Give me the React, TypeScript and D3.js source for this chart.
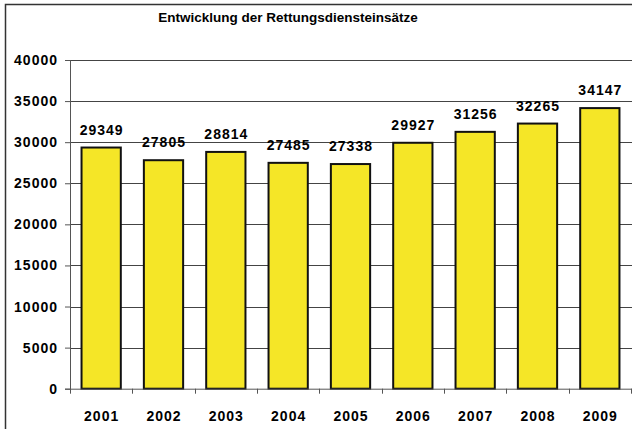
import React, { useEffect, useRef } from 'react';
import * as d3 from 'd3';

const years = ['2001', '2002', '2003', '2004', '2005', '2006', '2007', '2008', '2009'];
const einsaetze = [29349, 27805, 28814, 27485, 27338, 29927, 31256, 32265, 34147];
const yTicks = [0, 5000, 10000, 15000, 20000, 25000, 30000, 35000, 40000];
const title = 'Entwicklung der Rettungsdiensteinsätze';

const App = () => {
    const ref = useRef<SVGSVGElement>(null);
    const width = 632; // page width
    const height = 429; // page height
    const margin = { top: 60, right: 1, bottom: 40.3, left: 70 };
    const barColor = '#f5e627';
    const font = '"Liberation Sans", Arial, Helvetica, sans-serif';

    useEffect(() => {
        const svg = d3.select(ref.current);
        svg.selectAll('*').remove();

        const innerW = width - margin.left - margin.right;
        const innerH = height - margin.top - margin.bottom;

        // outer frame: only top and left edges are inside the picture
        svg.append('path')
            .attr('d', 'M5.5,' + height + 'V4.5H' + width)
            .attr('fill', 'none')
            .attr('stroke', '#333')
            .attr('stroke-width', 1.5);

        svg.append('text')
            .attr('x', 288).attr('y', 22)
            .attr('text-anchor', 'middle')
            .style('font-family', font)
            .style('font-weight', 'bold')
            .style('font-size', '13.5px')
            .text(title);

        const g = svg.append('g')
            .attr('transform', 'translate(' + margin.left + ',' + margin.top + ')');

        const x = d3.scaleBand()
            .domain(years)
            .range([0, innerW])
            .paddingInner(0.37)
            .paddingOuter(0.185);

        const y = d3.scaleLinear()
            .domain([0, 40000])
            .range([innerH, 0]);

        // gridlines
        g.selectAll('line.grid')
            .data(yTicks.filter(d => d > 0))
            .enter()
            .append('line')
            .attr('class', 'grid')
            .attr('x1', 0).attr('x2', innerW + 2)
            .attr('y1', d => Math.round(y(d)) + 0.5)
            .attr('y2', d => Math.round(y(d)) + 0.5)
            .attr('stroke', '#444')
            .attr('stroke-width', 1);

        // y axis
        const yAxis = g.append('g')
            .call(d3.axisLeft(y).tickValues(yTicks).tickSize(5).tickPadding(7).tickFormat(d3.format('d')));
        yAxis.select('.domain').attr('stroke', '#555');
        yAxis.selectAll('line').attr('stroke', '#555');
        yAxis.selectAll('text')
            .style('font-family', font)
            .style('font-weight', 'bold')
            .style('font-size', '14px')
            .style('letter-spacing', '1px')
            .attr('fill', '#000');

        // bars
        g.selectAll('rect.bar')
            .data(einsaetze)
            .enter()
            .append('rect')
            .attr('class', 'bar')
            .attr('x', (d, i) => x(years[i])!)
            .attr('y', d => y(d))
            .attr('width', x.bandwidth())
            .attr('height', d => innerH - y(d))
            .attr('fill', barColor)
            .attr('stroke', '#111')
            .attr('stroke-width', 2);

        // value labels
        g.selectAll('text.val')
            .data(einsaetze)
            .enter()
            .append('text')
            .attr('class', 'val')
            .attr('x', (d, i) => x(years[i])! + x.bandwidth() / 2 + 0.5)
            .attr('y', d => y(d) - 13)
            .attr('text-anchor', 'middle')
            .style('font-family', font)
            .style('font-weight', 'bold')
            .style('font-size', '14px')
            .style('letter-spacing', '1px')
            .text(d => d);

        // x axis with ticks at category boundaries
        const step = x.step();
        g.append('line')
            .attr('x1', 0).attr('x2', innerW + 2)
            .attr('y1', innerH + 0.5).attr('y2', innerH + 0.5)
            .attr('stroke', '#555');
        g.selectAll('line.xtick')
            .data(d3.range(years.length + 1))
            .enter()
            .append('line')
            .attr('class', 'xtick')
            .attr('x1', i => Math.round(i * step) + 0.5)
            .attr('x2', i => Math.round(i * step) + 0.5)
            .attr('y1', innerH)
            .attr('y2', innerH + 5)
            .attr('stroke', '#555');

        g.selectAll('text.year')
            .data(years)
            .enter()
            .append('text')
            .attr('class', 'year')
            .attr('x', d => x(d)! + x.bandwidth() / 2 + 0.5)
            .attr('y', innerH + 32)
            .attr('text-anchor', 'middle')
            .style('font-family', font)
            .style('font-weight', 'bold')
            .style('font-size', '14px')
            .style('letter-spacing', '1px')
            .text(d => d);
    }, []);

    return (
        <svg ref={ref} width={width} height={height}
            style={{ position: 'absolute', left: 0, top: 0, display: 'block' }} />
    );
};

export default App;
